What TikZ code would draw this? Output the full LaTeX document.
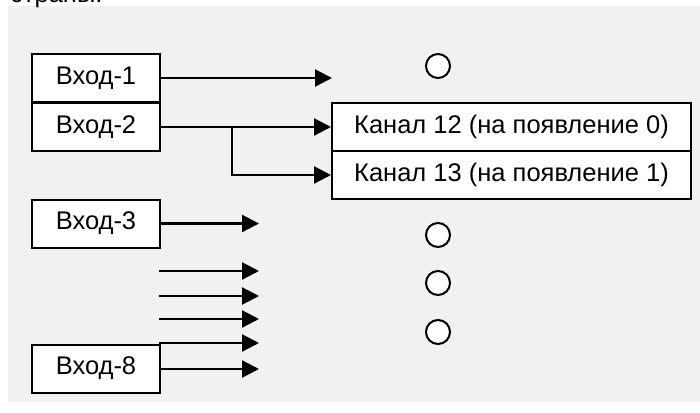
\documentclass[tikz,border=0pt]{standalone}
\usepackage{fontspec}
\setmainfont{Liberation Sans}
\usetikzlibrary{arrows.meta}
\definecolor{bggray}{HTML}{F1F1F1}
\tikzset{
  inbox/.style={draw, line width=2pt, fill=white, minimum width=128pt, minimum height=48pt, inner sep=0pt, font=\fontsize{25.5}{30}\selectfont},
  chbox/.style={inbox, minimum width=359pt},
  dot/.style={circle, draw, line width=2pt, fill=white, minimum size=24pt, inner sep=0pt},
  conn/.style={line width=2.3pt, -{Triangle[length=17pt,width=17pt]}},
}
\begin{document}
\begin{tikzpicture}[x=1pt,y=-1pt]
\useasboundingbox (0,0) rectangle (700,412);
\fill[bggray] (8,6) rectangle (700,402);
\node[overlay, anchor=base west, inner sep=0pt, font=\fontsize{25.5}{30}\selectfont] (hdr) at (10,3) {страны.};
\node[inbox] (in1) at (96,78) {Вход-1};
\node[inbox] (in2) at (96,127) {Вход-2};
\node[inbox] (in3) at (96,223.5) {Вход-3};
\node[inbox] (in8) at (96,368.5) {Вход-8};
\node[chbox] (ch12) at (511.5,127) {Канал 12 (на появление 0)};
\node[chbox] (ch13) at (511.5,175) {Канал 13 (на появление 1)};
\node[dot] (d1) at (438,66) {};
\node[dot] (d2) at (438,235) {};
\node[dot] (d3) at (438,283) {};
\node[dot] (d4) at (438,332) {};
\coordinate (e1) at (332,78);
\coordinate (br) at (232,127);
\coordinate (e3) at (259,223.5);
\coordinate (e8) at (259,369);
\foreach \y [count=\i] in {271,296,319,343} {
  \coordinate (fs\i) at (159,\y);
  \coordinate (fe\i) at (259,\y);
}
\draw[conn] (in1.east |- e1) -- (e1);
\draw[conn] (in2.east) -- (ch12.west);
\draw[conn] (br) |- (ch13.west);
\draw[conn] (in3.east) -- (e3);
\foreach \i in {1,...,4} { \draw[conn] (fs\i) -- (fe\i); }
\draw[conn] (in8.east |- e8) -- (e8);
\end{tikzpicture}
\end{document}
